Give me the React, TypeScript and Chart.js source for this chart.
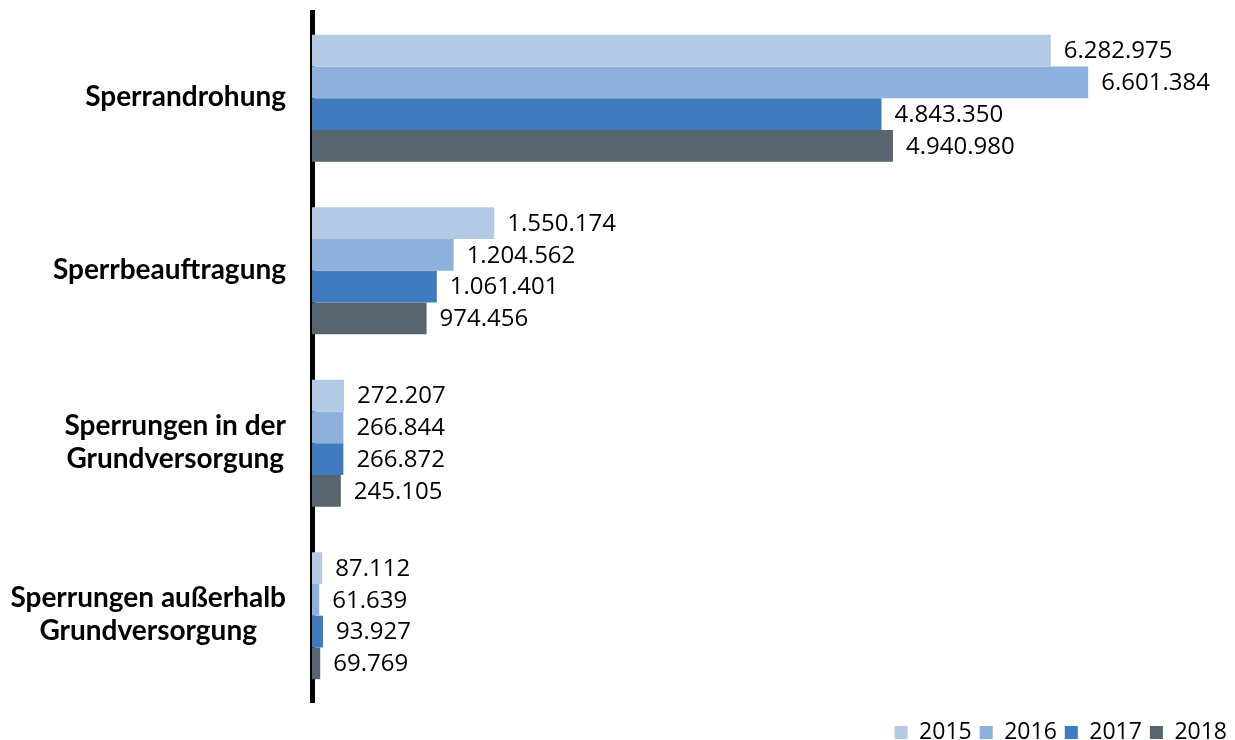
import React, { useEffect, useRef } from "react";
import { Chart, registerables } from "chart.js";

Chart.register(...registerables);

const categories: string[][] = [
  ["Sperrandrohung"],
  ["Sperrbeauftragung"],
  ["Sperrungen in der", "Grundversorgung"],
  ["Sperrungen außerhalb", "Grundversorgung"],
];
const years = ["2015", "2016", "2017", "2018"];
const v2015 = [6282975, 1550174, 272207, 87112];
const v2016 = [6601384, 1204562, 266844, 61639];
const v2017 = [4843350, 1061401, 266872, 93927];
const v2018 = [4940980, 974456, 245105, 69769];
const colors = ["#B3CAE5", "#8DB1DA", "#3E7BBF", "#57666E"];

function fmt(n: number): string {
  return String(Math.round(n)).replace(/\B(?=(\d{3})+(?!\d))/g, ".");
}

const valueLabels = {
  id: "valueLabels",
  afterDatasetsDraw(chart: any) {
    const ctx = chart.ctx;
    ctx.save();
    ctx.font = "24px 'Open Sans'";
    ctx.fillStyle = "#000";
    ctx.textAlign = "left";
    ctx.textBaseline = "middle";
    chart.data.datasets.forEach((ds: any, di: number) => {
      const meta = chart.getDatasetMeta(di);
      meta.data.forEach((el: any, i: number) => {
        ctx.fillText(fmt(ds.data[i]), el.x + 13, el.y + 1);
      });
    });
    ctx.restore();
  },
};

const categoryLabels = {
  id: "categoryLabels",
  afterDraw(chart: any) {
    const ctx = chart.ctx;
    const yScale = chart.scales.y;
    const right = 286;
    const lh = 33;
    ctx.save();
    ctx.font = "bold 28px Lato";
    ctx.fillStyle = "#000";
    ctx.textAlign = "center";
    ctx.textBaseline = "middle";
    categories.forEach((lines, i) => {
      const cy = yScale.getPixelForTick(i);
      const widest = Math.max(...lines.map((l) => ctx.measureText(l).width));
      const cx = right - widest / 2;
      const y0 = cy - ((lines.length - 1) * lh) / 2 - 1;
      lines.forEach((l, j) => ctx.fillText(l, cx, y0 + j * lh));
    });
    ctx.restore();
  },
};

const legendFit = {
  id: "legendFit",
  afterInit(chart: any) {
    const lg = chart.legend;
    if (!lg) return;
    const orig = lg.fit;
    lg.fit = function () {
      orig.call(this);
      this.height = 38;
    };
  },
  afterLayout(chart: any) {
    const lg = chart.legend;
    if (!lg) return;
    lg.top += 11;
    lg.bottom += 11;
  },
};

export default function App() {
  const ref = useRef<HTMLCanvasElement | null>(null);
  useEffect(() => {
    if (!ref.current) return;
    const series = [v2015, v2016, v2017, v2018];
    const chart = new Chart(ref.current, {
      type: "bar",
      data: {
        labels: categories.map((c) => c.join(" ")),
        datasets: years.map((y, i) => ({
          label: y,
          data: series[i],
          backgroundColor: colors[i],
          borderWidth: 0,
          categoryPercentage: 0.736,
          barPercentage: 1.0,
        })),
      },
      options: {
        indexAxis: "y",
        animation: false,
        responsive: true,
        maintainAspectRatio: false,
        layout: { padding: { top: 12, right: 0, left: 0, bottom: 0 } },
        plugins: {
          legend: {
            position: "bottom",
            align: "end",
            labels: {
              boxWidth: 13,
              boxHeight: 13,
              padding: 8,
              color: "#000",
              font: { family: "'Open Sans'", size: 23 },
            },
          },
          tooltip: { enabled: false },
        },
        scales: {
          x: { display: false, min: 0, max: 7850000 },
          y: {
            z: 1,
            grid: { display: false },
            ticks: { display: false },
            border: { display: true, color: "#000", width: 5 },
            afterFit(scale: any) {
              scale.width = 312;
            },
          },
        },
      },
      plugins: [valueLabels, categoryLabels, legendFit],
    });
    return () => chart.destroy();
  }, []);
  return (
    <div style={{ position: "fixed", left: 0, top: 0, width: 1235, height: 740, background: "#fff" }}>
      <canvas ref={ref} />
    </div>
  );
}
